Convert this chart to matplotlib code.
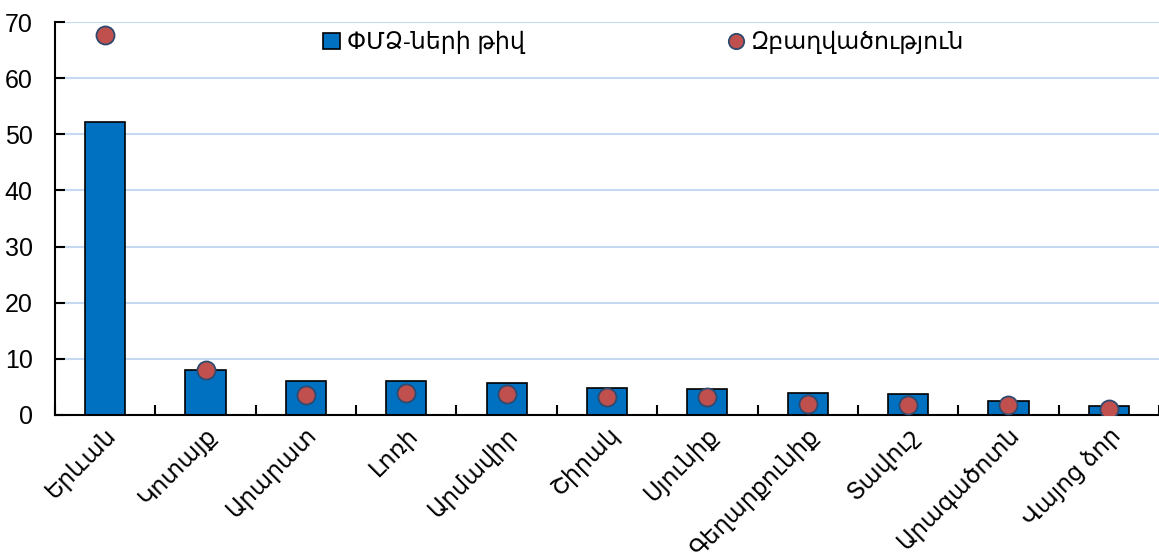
import matplotlib
matplotlib.use("Agg")
import matplotlib.pyplot as plt
import numpy as np
from matplotlib.ticker import FixedLocator

plt.rcParams['font.family'] = ['Liberation Sans', 'DejaVu Sans']

regions = ["Երևան", "Կոտայք", "Արարատ", "Լոռի", "Արմավիր", "Շիրակ",
           "Սյունիք", "Գեղարքունիք", "Տավուշ", "Արագածոտն", "Վայոց ձոր"]
sme_count = [52.2, 8.0, 6.1, 6.1, 5.7, 4.8, 4.7, 4.0, 3.8, 2.5, 1.6]
employment = [67.7, 8.0, 3.6, 3.9, 3.7, 3.2, 3.2, 2.0, 1.8, 1.8, 1.1]
legend_labels = ["ՓՄՁ-ների թիվ", "Զբաղվածություն"]
yticks = [0, 10, 20, 30, 40, 50, 60, 70]

fig = plt.figure(figsize=(11.59, 5.58), dpi=100)
ax = fig.add_axes([55/1159, 1 - 415/558, 1104/1159, 393/558])

x = np.arange(len(regions))
bars = ax.bar(x, sme_count, width=0.4, color="#0070c0", edgecolor="black",
              linewidth=1.2, zorder=2, label=legend_labels[0])
dots, = ax.plot(x, employment, 'o', markersize=13, markerfacecolor="#c0504d",
                markeredgecolor="#2f4a6e", markeredgewidth=1.3, zorder=3,
                label=legend_labels[1])

ax.set_xlim(-0.5, len(regions) - 0.5)
ax.set_ylim(0, 70)
ax.set_yticks(yticks)
ax.yaxis.grid(True, color="#c6d9f0", linewidth=1.5, zorder=0)
ax.set_axisbelow(True)

ax.set_xticks(x)
ax.set_xticklabels(regions, rotation=45, ha="right", va="top",
                   rotation_mode="anchor", fontsize=17)
ax.tick_params(axis='x', which='major', length=0, pad=6)
ax.xaxis.set_minor_locator(FixedLocator(np.arange(-0.5, len(regions), 1.0)))
ax.tick_params(axis='x', which='minor', direction='in', length=7, width=1.5)
ax.tick_params(axis='y', direction='in', length=7, width=1.5, labelsize=18, pad=16)

for s in ["top", "right"]:
    ax.spines[s].set_visible(False)
for s in ["left", "bottom"]:
    ax.spines[s].set_linewidth(1.5)

leg = ax.legend([bars, dots], legend_labels, loc="upper left",
                bbox_to_anchor=(247/1104, 1 + 12/393), ncol=2,
                frameon=False, fontsize=17, handlelength=0.7, handleheight=0.7,
                handletextpad=0.3, columnspacing=8.6, markerscale=0.85)

fig.savefig("out.png", dpi=100)
